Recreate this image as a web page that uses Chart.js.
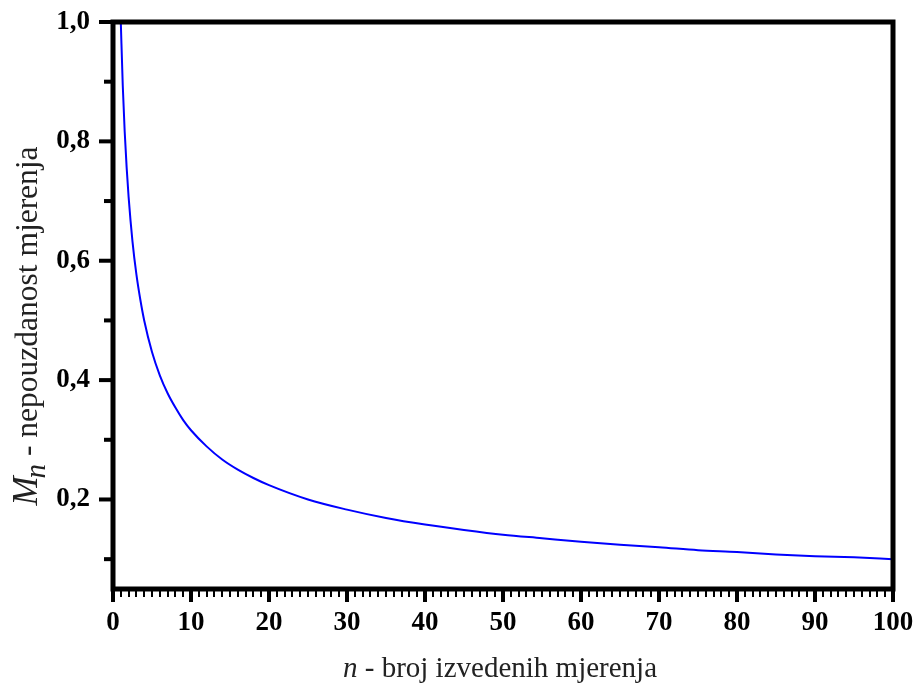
<!DOCTYPE html>
<html>
<head>
<meta charset="utf-8">
<script src="https://cdn.jsdelivr.net/npm/chart.js@4"></script>
<style>
html,body{margin:0;padding:0;background:#fff;}
#wrap{width:916px;height:686px;position:relative;}
</style>
</head>
<body>
<div id="wrap"><canvas id="c" width="916" height="686"></canvas></div>
<script>
// Data
const nValues = [1, 1.25, 1.5, 1.75, 2, 2.5, 3, 3.5, 4, 5, 6, 7, 8, 9, 10, 12, 14, 16, 18, 20, 25, 30, 35, 40, 45, 50, 55, 60, 65, 70, 75, 80, 85, 90, 95, 100];
const mValues = [1.000, 0.894, 0.816, 0.756, 0.707, 0.632, 0.577, 0.535, 0.500, 0.447, 0.408, 0.378, 0.354, 0.333, 0.316, 0.289, 0.267, 0.250, 0.236, 0.224, 0.200, 0.183, 0.169, 0.158, 0.149, 0.141, 0.135, 0.129, 0.124, 0.120, 0.115, 0.112, 0.108, 0.105, 0.103, 0.100];
const xTickLabels = [0, 10, 20, 30, 40, 50, 60, 70, 80, 90, 100];
const yTickLabels = [0.2, 0.4, 0.6, 0.8, 1.0];
const yMinorTicks = [0.1, 0.3, 0.5, 0.7, 0.9];
const xTitleItalic = "n";
const xTitleRest = " - broj izvedenih mjerenja";
const yTitleM = "M";
const yTitleSub = "n";
const yTitleRest = " - nepouzdanost mjerenja";

const points = nValues.map((n, i) => ({x: n, y: mValues[i]}));

const framePlugin = {
  id: 'frame',
  afterDraw(chart) {
    const {ctx, chartArea: a, scales} = chart;
    const xs = scales.x, ys = scales.y;
    ctx.save();
    ctx.strokeStyle = '#000';
    ctx.lineCap = 'butt';
    // minor x ticks
    ctx.lineWidth = 2;
    for (let v = 0; v <= 100; v++) {
      if (v % 10 === 0) continue;
      const px = Math.round(xs.getPixelForValue(v));
      ctx.beginPath(); ctx.moveTo(px, a.bottom); ctx.lineTo(px, a.bottom + 8); ctx.stroke();
    }
    // major x ticks
    ctx.lineWidth = 4;
    xTickLabels.forEach(v => {
      const px = xs.getPixelForValue(v);
      ctx.beginPath(); ctx.moveTo(px, a.bottom); ctx.lineTo(px, a.bottom + 13); ctx.stroke();
    });
    // y ticks
    yTickLabels.forEach(v => {
      const py = ys.getPixelForValue(v);
      ctx.beginPath(); ctx.moveTo(a.left, py); ctx.lineTo(a.left - 14, py); ctx.stroke();
    });
    yMinorTicks.forEach(v => {
      const py = ys.getPixelForValue(v);
      ctx.beginPath(); ctx.moveTo(a.left, py); ctx.lineTo(a.left - 9, py); ctx.stroke();
    });
    // frame
    ctx.lineWidth = 5;
    ctx.strokeRect(a.left, a.top, a.right - a.left, a.bottom - a.top);
    // axis titles
    ctx.fillStyle = '#222';
    ctx.textBaseline = 'alphabetic';
    const fi = 'italic 29px "Liberation Serif", "DejaVu Serif", serif';
    const fr = '29px "Liberation Serif", "DejaVu Serif", serif';
    ctx.font = fi; const w1 = ctx.measureText(xTitleItalic).width;
    ctx.font = fr; const w2 = ctx.measureText(xTitleRest).width;
    let sx = (a.left + a.right) / 2 - (w1 + w2) / 2 - 3;
    const by = 677;
    ctx.font = fi; ctx.fillText(xTitleItalic, sx, by);
    ctx.font = fr; ctx.fillText(xTitleRest, sx + w1, by);
    // y title rotated
    ctx.translate(37, 325);
    ctx.rotate(-Math.PI / 2);
    const fM = 'italic 35px "Liberation Serif", "DejaVu Serif", serif';
    const fS = 'italic 29px "Liberation Serif", "DejaVu Serif", serif';
    const fR = '31.5px "Liberation Serif", "DejaVu Serif", serif';
    ctx.font = fM; const m1 = ctx.measureText(yTitleM).width;
    ctx.font = fS; const m2 = ctx.measureText(yTitleSub).width;
    ctx.font = fR; const m3 = ctx.measureText(yTitleRest).width;
    let tx = -(m1 + m2 + m3) / 2;
    ctx.font = fM; ctx.fillText(yTitleM, tx, 0);
    ctx.font = fS; ctx.fillText(yTitleSub, tx + m1 - 2, 8);
    ctx.font = fR; ctx.fillText(yTitleRest, tx + m1 + m2 - 2, 0);
    ctx.restore();
  }
};

new Chart(document.getElementById('c'), {
  type: 'line',
  data: {
    datasets: [{
      data: points,
      borderColor: '#0000ff',
      borderWidth: 2,
      pointRadius: 0,
      tension: 0.4,
      cubicInterpolationMode: 'monotone',
      fill: false
    }]
  },
  options: {
    responsive: false,
    animation: false,
    devicePixelRatio: 1,
    layout: {padding: {top: 22, right: 23, left: 0, bottom: 0}},
    plugins: {legend: {display: false}, tooltip: {enabled: false}},
    scales: {
      x: {
        type: 'linear', min: 0, max: 100,
        grid: {display: false}, border: {display: false},
        afterBuildTicks: s => { s.ticks = xTickLabels.map(v => ({value: v})); },
        afterFit: s => { s.height = 97; s.paddingLeft = 0; s.paddingRight = 0; },
        ticks: {
          padding: 10, color: '#000', maxRotation: 0, autoSkip: false,
          font: {family: '"Liberation Serif", serif', size: 27, weight: 'bold'},
          callback: v => String(v)
        }
      },
      y: {
        type: 'linear', min: 0.05, max: 1.0,
        grid: {display: false}, border: {display: false},
        afterBuildTicks: s => { s.ticks = yTickLabels.map(v => ({value: v})); },
        afterFit: s => { s.width = 113; s.paddingTop = 0; s.paddingBottom = 0; },
        ticks: {
          padding: 15, color: '#000', autoSkip: false,
          font: {family: '"Liberation Serif", serif', size: 27, weight: 'bold'},
          callback: v => v.toFixed(1).replace('.', ',')
        }
      }
    }
  },
  plugins: [framePlugin]
});
</script>
</body>
</html>
